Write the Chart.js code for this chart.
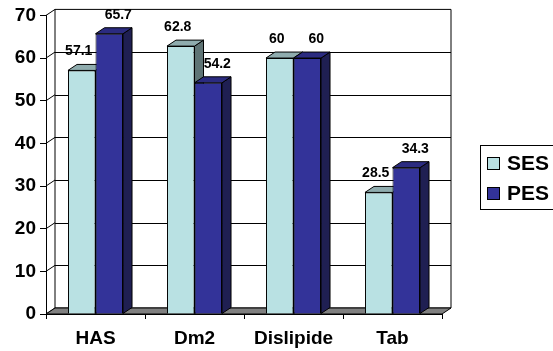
<!DOCTYPE html>
<html>
<head>
<meta charset="utf-8">
<script src="https://cdn.jsdelivr.net/npm/chart.js@4/dist/chart.umd.min.js"></script>
<style>
  html, body { margin: 0; padding: 0; background: #fff; }
  canvas { display: block; }
</style>
</head>
<body>
<canvas id="chart" width="553" height="351"></canvas>
<script>
// Categories and series
const categories = ['HAS', 'Dm2', 'Dislipide', 'Tab'];
const sesValues = [57.1, 62.8, 60, 28.5];
const pesValues = [65.7, 54.2, 60, 34.3];
const seriesNames = ['SES', 'PES'];
const yMin = 0;
const yMax = 70;
const yStep = 10;

const FONT = "'Liberation Sans', Arial, Helvetica, sans-serif";
// Oblique projection offset of the 3D depth
const DX = 9;
const DY = -6;
// Horizontal nudge of the value labels per series (left series left, right series right)
const labelShift = [-3, 9];

const faceColors = [
  { front: '#B9E1E3', top: '#8FACAE', side: '#5F7475' },
  { front: '#333399', top: '#2B2B80', side: '#1F1F52' }
];

function poly(ctx, pts, fill, stroke) {
  ctx.beginPath();
  ctx.moveTo(pts[0][0], pts[0][1]);
  for (let i = 1; i < pts.length; i++) ctx.lineTo(pts[i][0], pts[i][1]);
  ctx.closePath();
  if (fill) { ctx.fillStyle = fill; ctx.fill(); }
  if (stroke) { ctx.strokeStyle = stroke; ctx.lineWidth = 1; ctx.stroke(); }
}

// Walls, floor and the top/side faces of each bar
const box3d = {
  id: 'box3d',
  beforeDatasetsDraw(chart) {
    const { ctx, chartArea: a, scales: { y } } = chart;
    const y0 = y.getPixelForValue(yMin);
    const y1 = y.getPixelForValue(yMax);
    ctx.save();
    ctx.lineWidth = 1;

    // back wall
    poly(ctx, [[a.left + DX, y1 + DY], [a.right + DX, y1 + DY], [a.right + DX, y0 + DY], [a.left + DX, y0 + DY]], '#fff', '#000');
    ctx.strokeStyle = '#000';
    for (let v = yMin + yStep; v < yMax; v += yStep) {
      const py = Math.round(y.getPixelForValue(v) + DY) + 0.5;
      ctx.beginPath();
      ctx.moveTo(a.left + DX, py);
      ctx.lineTo(a.right + DX, py);
      ctx.stroke();
    }
    // side wall grid lines
    for (let v = yMin; v <= yMax; v += yStep) {
      const py = y.getPixelForValue(v);
      ctx.beginPath();
      ctx.moveTo(a.left, py);
      ctx.lineTo(a.left + DX, py + DY);
      ctx.stroke();
    }
    // floor
    poly(ctx, [[a.left, y0], [a.right, y0], [a.right + DX, y0 + DY], [a.left + DX, y0 + DY]], '#808080', '#000');

    // bar sides and tops
    chart.data.datasets.forEach((ds, di) => {
      const meta = chart.getDatasetMeta(di);
      const col = faceColors[di];
      meta.data.forEach(bar => {
        const { x, y: top, base, width } = bar.getProps(['x', 'y', 'base', 'width'], true);
        const l = x - width / 2, r = x + width / 2;
        poly(ctx, [[r, top], [r + DX, top + DY], [r + DX, base + DY], [r, base]], col.side, '#000');
        poly(ctx, [[l, top], [r, top], [r + DX, top + DY], [l + DX, top + DY]], col.top, '#000');
      });
    });
    ctx.restore();
  },
  afterDatasetsDraw(chart) {
    // value labels above each bar
    const { ctx } = chart;
    ctx.save();
    ctx.fillStyle = '#000';
    ctx.font = 'bold 14px ' + FONT;
    ctx.textAlign = 'center';
    ctx.textBaseline = 'alphabetic';
    chart.data.datasets.forEach((ds, di) => {
      const meta = chart.getDatasetMeta(di);
      meta.data.forEach((bar, i) => {
        const { x, y: top } = bar.getProps(['x', 'y'], true);
        ctx.fillText(String(ds.data[i]), x + labelShift[di], top + DY - 9);
      });
    });
    ctx.restore();
  },
  afterDraw(chart) {
    // legend box on the right
    const { ctx } = chart;
    const bx = 480, by = 145, bw = 90, bh = 64;
    ctx.save();
    ctx.fillStyle = '#fff';
    ctx.fillRect(bx, by, bw, bh);
    ctx.strokeStyle = '#000';
    ctx.lineWidth = 1;
    ctx.strokeRect(bx + 0.5, by + 0.5, bw, bh);
    ctx.font = 'bold 21px ' + FONT;
    ctx.textAlign = 'left';
    ctx.textBaseline = 'middle';
    chart.data.datasets.forEach((ds, di) => {
      const cy = by + 18 + di * 30;
      ctx.fillStyle = faceColors[di].front;
      ctx.fillRect(bx + 7, cy - 6, 13, 13);
      ctx.strokeStyle = '#000';
      ctx.strokeRect(bx + 7.5, cy - 5.5, 12, 12);
      ctx.fillStyle = '#000';
      ctx.fillText(ds.label, bx + 27, cy + 1);
    });
    ctx.restore();
  }
};

new Chart(document.getElementById('chart'), {
  type: 'bar',
  data: {
    labels: categories,
    datasets: [
      { label: seriesNames[0], data: sesValues, backgroundColor: faceColors[0].front },
      { label: seriesNames[1], data: pesValues, backgroundColor: faceColors[1].front }
    ]
  },
  options: {
    responsive: false,
    animation: false,
    devicePixelRatio: 1,
    layout: { padding: { top: 14, right: 111, left: 0, bottom: 0 } },
    datasets: {
      bar: {
        categoryPercentage: 0.556,
        barPercentage: 1.0,
        borderWidth: 1,
        borderColor: '#000'
      }
    },
    plugins: {
      legend: { display: false },
      tooltip: { enabled: false }
    },
    scales: {
      x: {
        ticks: { color: '#000', font: { family: FONT, size: 19, weight: 'bold' }, padding: 8 },
        grid: { drawOnChartArea: false, drawTicks: true, tickLength: 5, color: '#000', offset: true },
        border: { display: true, color: '#000' },
        afterFit(scale) { scale.height = 37; }
      },
      y: {
        min: yMin,
        max: yMax,
        ticks: { stepSize: yStep, color: '#000', font: { family: FONT, size: 19, weight: 'bold' }, padding: 4 },
        grid: { drawOnChartArea: false, drawTicks: true, tickLength: 6, color: '#000' },
        border: { display: true, color: '#000' },
        afterFit(scale) { scale.width = 46; }
      }
    }
  },
  plugins: [box3d]
});
</script>
</body>
</html>
